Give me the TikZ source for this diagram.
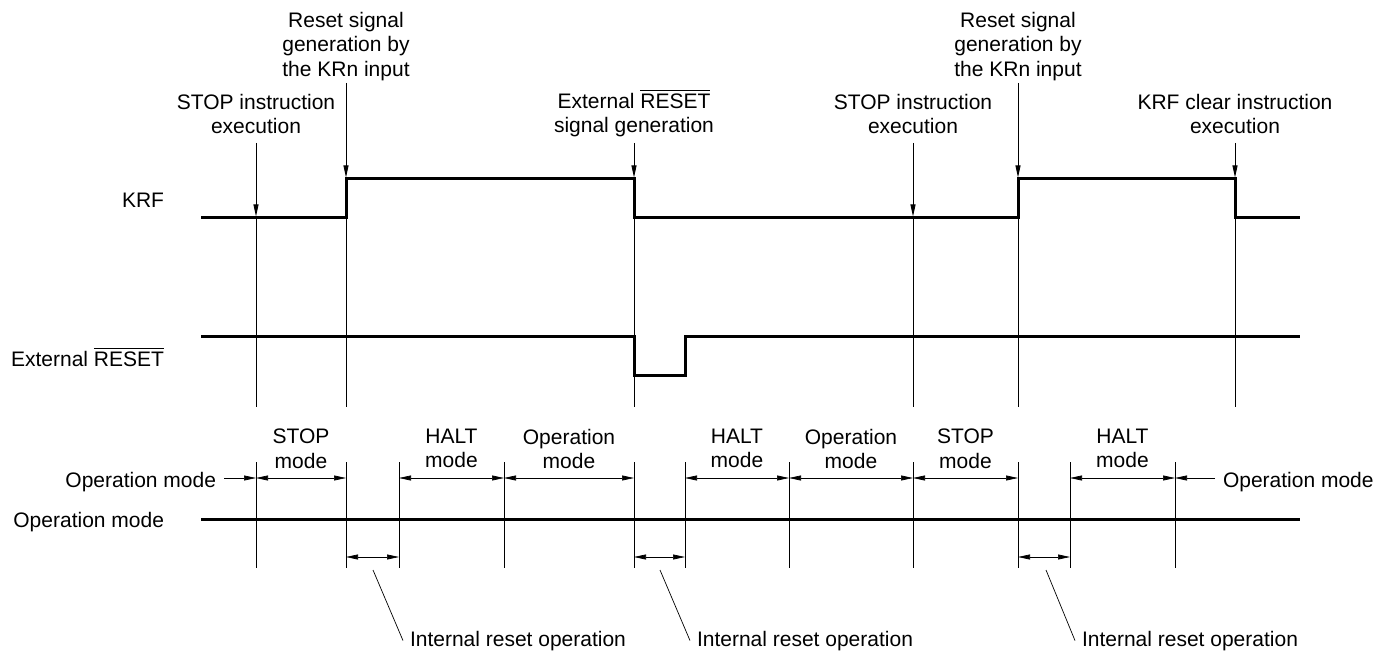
\documentclass[tikz,border=0pt]{standalone}
\usepackage{fontspec}
\setmainfont{Liberation Sans}
\usetikzlibrary{arrows.meta}
\newcommand\myovl[1]{\setbox0=\hbox{#1}\leavevmode\rlap{\smash{\rule[\dimexpr\ht0+2.5pt\relax]{\wd0}{0.9pt}}}\box0}
\begin{document}
\begin{tikzpicture}[x=1pt,y=-1pt,
  txt/.style={font=\fontsize{21}{24.5}\selectfont, inner sep=0pt, outer sep=0pt},
  ml/.style={txt, align=center, anchor=north},
  sig/.style={line width=3pt, line join=miter},
  guide/.style={line width=0.9pt},
  tiparr/.style={line width=0.9pt, -{Triangle[length=12pt,width=5pt]}},
  spanarr/.style={line width=0.7pt, {Triangle[length=12pt,width=5pt]}-{Triangle[length=12pt,width=5pt]}},
  onearr/.style={line width=0.7pt, -{Triangle[length=12pt,width=5pt]}},
  leader/.style={line width=0.7pt}]

\useasboundingbox (0,0) rectangle (1393,655);

% reference coordinates on each vertical line
\foreach \n/\x in {a/256,b/346,c/399,d/504,e/634,f/685,g/789,h/913,i/1018,j/1070,k/1175,l/1235}{
  \coordinate (u\n) at (\x,407);
  \coordinate (s\n) at (\x,462);
  \coordinate (m\n) at (\x,478);
  \coordinate (r\n) at (\x,557);
  \coordinate (e\n) at (\x,568);
}

% top labels
\node[ml] (l1) at (256,94) {STOP instruction\\execution};
\node[ml] (l2) at (346,12) {Reset signal\\generation by\\the KRn input};
\node[ml] (l3) at (634,93) {External \myovl{RESET}\\signal generation};
\node[ml] (l4) at (913,94) {STOP instruction\\execution};
\node[ml] (l5) at (1018,12) {Reset signal\\generation by\\the KRn input};
\node[ml] (l6) at (1235,94) {KRF clear instruction\\execution};

% arrow starts (below labels) and tips (on KRF signal)
\coordinate (a1) at (256,143);  \coordinate (t1) at (256,216.5);
\coordinate (a2) at (346,83);   \coordinate (t2) at (346,177.5);
\coordinate (a3) at (634,143);  \coordinate (t3) at (634,177.5);
\coordinate (a4) at (913,143);  \coordinate (t4) at (913,216.5);
\coordinate (a5) at (1018,83);  \coordinate (t5) at (1018,177.5);
\coordinate (a6) at (1235,143); \coordinate (t6) at (1235,177.5);

\draw[tiparr] (a1) -- (t1); \draw[guide] (t1) -- (ua);
\draw[tiparr] (a2) -- (t2); \draw[guide] (t2) -- (ub);
\draw[tiparr] (a3) -- (t3); \draw[guide] (t3) -- (ue);
\draw[tiparr] (a4) -- (t4); \draw[guide] (t4) -- (uh);
\draw[tiparr] (a5) -- (t5); \draw[guide] (t5) -- (ui);
\draw[tiparr] (a6) -- (t6); \draw[guide] (t6) -- (ul);

% lower guide segments
\foreach \n in {a,b,c,d,e,f,g,h,i,j,k}{ \draw[guide] (s\n) -- (e\n); }

% left labels
\node[txt, anchor=base east] (krf) at (164,208) {KRF};
\node[txt, anchor=base east] (ext) at (164,366) {External \myovl{RESET}};
\node[txt, anchor=base east] (opm) at (164,527.5) {Operation mode};

% signals
\draw[sig] (201,218) -- (346,218) -- (346,179) -- (634,179) -- (634,218)
  -- (1018,218) -- (1018,179) -- (1235,179) -- (1235,218) -- (1300,218);
\draw[sig] (201,336) -- (634,336) -- (634,375) -- (685,375) -- (685,336) -- (1300,336);
\draw[sig] (201,519) -- (1300,519);

% mode labels
\node[ml] (mo1) at (301,429) {STOP\\mode};
\node[ml] (mo2) at (451.5,429) {HALT\\mode};
\node[ml] (mo3) at (569,429) {Operation\\mode};
\node[ml] (mo4) at (737,429) {HALT\\mode};
\node[ml] (mo5) at (851,429) {Operation\\mode};
\node[ml] (mo6) at (965.5,429) {STOP\\mode};
\node[ml] (mo7) at (1122.5,429) {HALT\\mode};

\node[txt, anchor=base east] (opL) at (216,487) {Operation mode};
\node[txt, anchor=base west] (opR) at (1223,487) {Operation mode};
\coordinate (oL) at (224,478);
\coordinate (oR) at (1215,478);

% mode arrows
\draw[onearr] (oL) -- (ma);
\draw[spanarr] (ma) -- (mb);
\draw[spanarr] (mc) -- (md);
\draw[spanarr] (md) -- (me);
\draw[spanarr] (mf) -- (mg);
\draw[spanarr] (mg) -- (mh);
\draw[spanarr] (mh) -- (mi);
\draw[spanarr] (mj) -- (mk);
\draw[onearr] (oR) -- (mk);

% internal reset arrows
\draw[spanarr] (rb) -- (rc);
\draw[spanarr] (re) -- (rf);
\draw[spanarr] (ri) -- (rj);

% internal reset labels
\node[txt, anchor=base west, inner xsep=7pt] (ir1) at (403,646) {Internal reset operation};
\node[txt, anchor=base west, inner xsep=7pt] (ir2) at (690,646) {Internal reset operation};
\node[txt, anchor=base west, inner xsep=7pt] (ir3) at (1075,646) {Internal reset operation};
\coordinate (q1) at (373,570);
\coordinate (q2) at (660,570);
\coordinate (q3) at (1046,570);
\draw[leader] (q1) -- (ir1.west);
\draw[leader] (q2) -- (ir2.west);
\draw[leader] (q3) -- (ir3.west);
\end{tikzpicture}
\end{document}
